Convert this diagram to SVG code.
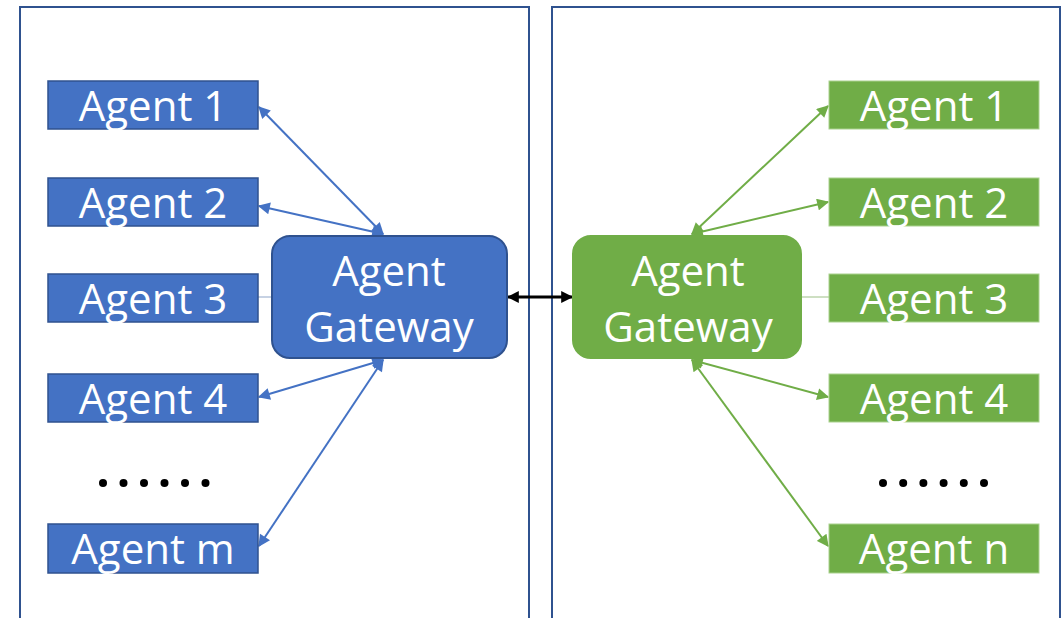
<svg xmlns="http://www.w3.org/2000/svg" width="1063" height="618" viewBox="0 0 1063 618">
<style>
.panel{fill:#fff;stroke:#2F528F;stroke-width:2}
.ab{fill:#4472C4;stroke:#2F528F;stroke-width:1.5}
.ag{fill:#70AD47;stroke:#A9D18E;stroke-width:1}
.gb{fill:#4472C4;stroke:#2F528F;stroke-width:2}
.gg{fill:#70AD47;stroke:#70AD47;stroke-width:2}
.t{font-family:"Open Sans","Liberation Sans",sans-serif;font-size:42px;fill:#fff;text-anchor:middle}
.cb{stroke:#4472C4;stroke-width:2;fill:none;marker-start:url(#mb);marker-end:url(#mb)}
.cg{stroke:#70AD47;stroke-width:2;fill:none;marker-start:url(#mg);marker-end:url(#mg)}
</style>
<defs>
<marker id="mb" viewBox="0 0 10 10" refX="9" refY="5" markerWidth="14" markerHeight="12" markerUnits="userSpaceOnUse" orient="auto-start-reverse"><path d="M0,0 L10,5 L0,10 z" fill="#4472C4"/></marker>
<marker id="mg" viewBox="0 0 10 10" refX="9" refY="5" markerWidth="14" markerHeight="12" markerUnits="userSpaceOnUse" orient="auto-start-reverse"><path d="M0,0 L10,5 L0,10 z" fill="#70AD47"/></marker>
<marker id="mk" viewBox="0 0 10 10" refX="9" refY="5" markerWidth="14" markerHeight="12" markerUnits="userSpaceOnUse" orient="auto-start-reverse"><path d="M0,0 L10,5 L0,10 z" fill="#000"/></marker>
</defs>
<g id="panel-left"><rect class="panel" x="20" y="7" width="509" height="620"/></g>
<g id="panel-right"><rect class="panel" x="552" y="7" width="508" height="620"/></g>
<g id="connectors">
<path class="cb" d="M383,234 L259,107"/>
<path class="cb" d="M383,234 L259,206"/>
<path d="M258,297 L272,297" stroke="#8FA5C8" stroke-width="1"/>
<path class="cb" d="M383,360 L259,397"/>
<path class="cb" d="M383,360 L259,546"/>
<path class="cg" d="M692,234 L828,106"/>
<path class="cg" d="M692,234 L828,202"/>
<path d="M801,297 L829,297" stroke="#9CBF85" stroke-width="1"/>
<path class="cg" d="M692,360 L828,397"/>
<path class="cg" d="M692,360 L828,546"/>
<path d="M508,297 L572,297" stroke="#000" stroke-width="3" marker-start="url(#mk)" marker-end="url(#mk)"/>
</g>
<g id="a1"><rect class="ab" x="48" y="81" width="210" height="48"/><text class="t" x="153" y="121">Agent 1</text></g>
<g id="a2"><rect class="ab" x="48" y="178" width="210" height="48"/><text class="t" x="153" y="218">Agent 2</text></g>
<g id="a3"><rect class="ab" x="48" y="274" width="210" height="48"/><text class="t" x="153" y="314">Agent 3</text></g>
<g id="a4"><rect class="ab" x="48" y="374" width="210" height="48"/><text class="t" x="153" y="414">Agent 4</text></g>
<g id="dots-left" fill="#000"><circle cx="103" cy="483" r="4"/><circle cx="123.5" cy="483" r="4"/><circle cx="144" cy="483" r="4"/><circle cx="164.5" cy="483" r="4"/><circle cx="185" cy="483" r="4"/><circle cx="205.5" cy="483" r="4"/></g>
<g id="am"><rect class="ab" x="48" y="524" width="210" height="49"/><text class="t" x="153" y="564">Agent m</text></g>
<g id="gw-left"><rect class="gb" x="272" y="236" width="235" height="122" rx="18"/><text class="t" x="389" y="286">Agent</text><text class="t" x="389" y="342">Gateway</text></g>
<g id="gw-right"><rect class="gg" x="573" y="236" width="228" height="122" rx="18"/><text class="t" x="688" y="286">Agent</text><text class="t" x="688" y="342">Gateway</text></g>
<g id="b1"><rect class="ag" x="829" y="81" width="210" height="48"/><text class="t" x="934" y="121">Agent 1</text></g>
<g id="b2"><rect class="ag" x="829" y="178" width="210" height="48"/><text class="t" x="934" y="218">Agent 2</text></g>
<g id="b3"><rect class="ag" x="829" y="274" width="210" height="48"/><text class="t" x="934" y="314">Agent 3</text></g>
<g id="b4"><rect class="ag" x="829" y="374" width="210" height="48"/><text class="t" x="934" y="414">Agent 4</text></g>
<g id="dots-right" fill="#000"><circle cx="883" cy="483" r="4"/><circle cx="903.2" cy="483" r="4"/><circle cx="923.4" cy="483" r="4"/><circle cx="943.6" cy="483" r="4"/><circle cx="963.8" cy="483" r="4"/><circle cx="984" cy="483" r="4"/></g>
<g id="bn"><rect class="ag" x="829" y="524" width="210" height="49"/><text class="t" x="934" y="564">Agent n</text></g>
</svg>
